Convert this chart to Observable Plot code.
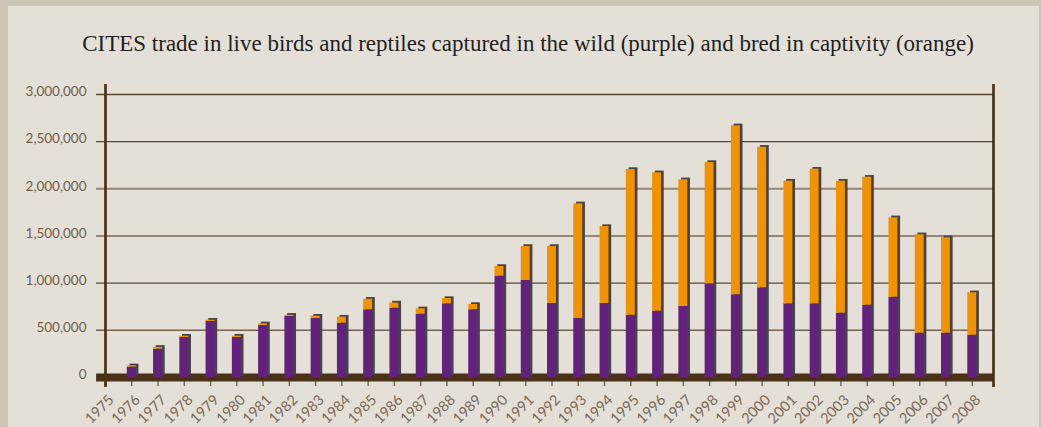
<!DOCTYPE html>
<html>
<head>
<meta charset="utf-8">
<script src="https://cdn.jsdelivr.net/npm/d3@7"></script>
<script src="https://cdn.jsdelivr.net/npm/@observablehq/plot@0.6"></script>
<style>
  html, body { margin: 0; padding: 0; background: #cdc5b3; }
  #wrap { position: relative; width: 1041px; height: 427px; overflow: hidden; }
  #panel { position: absolute; left: 8px; top: 6px; width: 1031px; height: 421px; background: #e4e0d8; }
  #title { position: absolute; left: 0; top: 31px; width: 1056px; text-align: center;
           font-family: "Liberation Serif", serif; font-size: 23px; color: #231f20; white-space: nowrap; }
  #chart { position: absolute; left: 0; top: 0; }
</style>
</head>
<body>
<div id="wrap">
  <div id="panel"></div>
  <div id="title">CITES trade in live birds and reptiles captured in the wild (purple) and bred in captivity (orange)</div>
  <div id="chart"></div>
</div>
<script>
const years = [1976, 1977, 1978, 1979, 1980, 1981, 1982, 1983, 1984, 1985, 1986, 1987, 1988, 1989, 1990, 1991, 1992,
  1993, 1994, 1995, 1996, 1997, 1998, 1999, 2000, 2001, 2002, 2003, 2004, 2005, 2006, 2007, 2008];
const wild = [110000, 300000, 424000, 594000, 424000, 551000, 647000, 625000, 576000, 718000, 735000, 671000, 781000,
  718000, 1074000, 1028000, 784000, 625000, 784000, 660000, 703000, 753000, 993000, 877000, 951000, 781000, 781000,
  682000, 767000, 851000, 470000, 470000, 448000];
const total = [124000, 320000, 438000, 607000, 438000, 569000, 660000, 650000, 640000, 830000, 790000, 728000, 837000,
  774000, 1177000, 1389000, 1389000, 1841000, 1600000, 2205000, 2170000, 2096000, 2279000, 2668000, 2441000, 2081000,
  2208000, 2081000, 2123000, 1693000, 1513000, 1481000, 898000];
const xTicks = d3.range(1975, 2009);
const yTicks = [0, 500000, 1000000, 1500000, 2000000, 2500000, 3000000];

const data = years.map((y, i) => ({year: y, wild: wild[i], total: total[i]}));
const bw = 0.17;
const xMin = 1974.66, xMax = 2008.81;

const chart = Plot.plot({
  width: 1041,
  height: 427,
  marginLeft: 105,
  marginRight: 48,
  marginTop: 94,
  marginBottom: 50,
  style: {background: "transparent", fontFamily: "Lato, sans-serif", overflow: "visible"},
  x: {type: "linear", domain: [1975, xMax]},
  y: {domain: [0, 3000000]},
  marks: [
    Plot.ruleY([1000000, 2500000, 3000000], {x1: xMin, x2: xMax, stroke: "#5a4631", strokeWidth: 1.4}),
    Plot.ruleY([1500000, 2000000], {x1: xMin, x2: xMax, stroke: "#968571", strokeWidth: 2}),
    Plot.ruleY([500000], {x1: xMin, x2: xMax, stroke: "#76634f", strokeWidth: 1.5}),
    Plot.axisX({ticks: xTicks, tickSize: 9, tickRotate: -45, tickFormat: d => String(d),
      fontSize: 14, color: "#7b6a57", strokeWidth: 1.5, label: null, text: null}),
    Plot.axisX({ticks: xTicks, tickSize: 0, tickPadding: 20, tickRotate: -45, tickFormat: d => String(d),
      fontSize: 14.5, color: "#7b6a57", dx: 6, label: null}),
    Plot.axisY({ticks: yTicks, tickSize: 0, tickPadding: 19, tickFormat: d3.format(","),
      fontSize: 13.5, color: "#6e5d4a", dy: -2.5, label: null}),
    Plot.ruleY([0], {x1: xMin, x2: xMax, stroke: "#4b3118", strokeWidth: 8}),
    Plot.rect(data, {x1: d => d.year - bw, x2: d => d.year + bw, y1: 0, y2: "total", dx: 2.7, dy: -1.7, fill: "#45444b"}),
    Plot.rect(data, {x1: d => d.year - bw, x2: d => d.year + bw, y1: 0, y2: "wild", fill: "#63207c"}),
    Plot.rect(data, {x1: d => d.year - bw, x2: d => d.year + bw, y1: "wild", y2: "total", fill: "#f39200"}),
    Plot.ruleX([1975, xMax], {y1: 3106000, y2: -106000, stroke: "#4b3118", strokeWidth: 2.7})
  ]
});
document.getElementById("chart").appendChild(chart);
</script>
</body>
</html>
